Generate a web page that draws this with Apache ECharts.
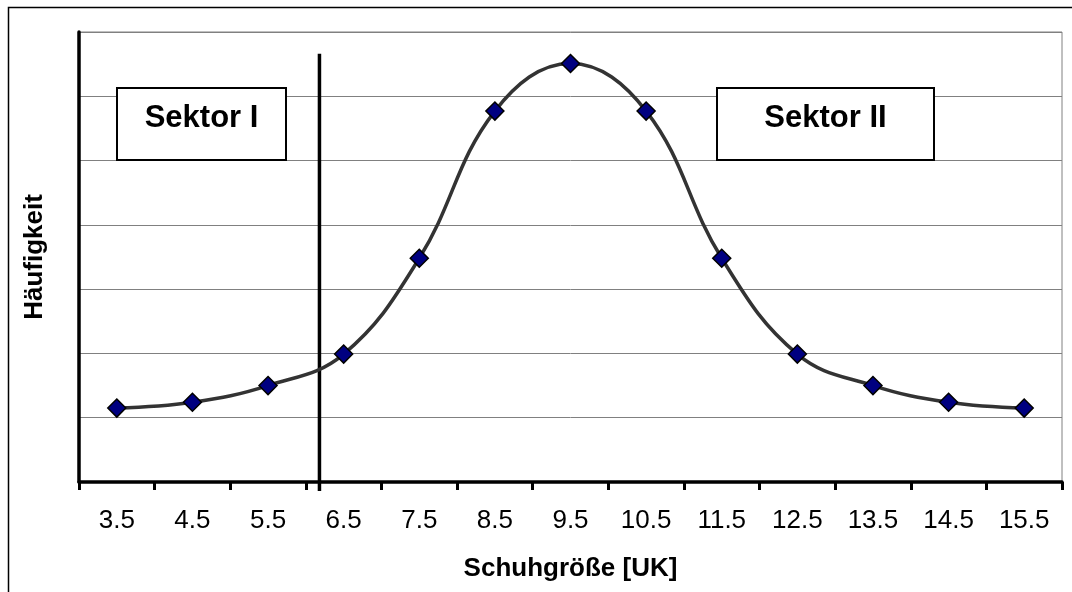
<!DOCTYPE html>
<html>
<head>
<meta charset="utf-8">
<script src="https://cdn.jsdelivr.net/npm/echarts@6/dist/echarts.min.js"></script>
<style>
  html, body { margin: 0; padding: 0; background: #fff; }
  #chart { width: 1072px; height: 592px; }
</style>
</head>
<body>
<div id="chart"></div>
<script>
// Shoe sizes (UK) and their relative frequency
const sizes = ['3.5', '4.5', '5.5', '6.5', '7.5', '8.5', '9.5', '10.5', '11.5', '12.5', '13.5', '14.5', '15.5'];
const frequency = [1.15, 1.24, 1.50, 1.99, 3.48, 5.77, 6.51, 5.77, 3.48, 1.99, 1.50, 1.24, 1.15];
// Boundary between the two sectors, on the shoe-size scale, and its vertical extent
const sectorBoundary = 6.18;
const boundarySpan = [6.66, -0.14];
const sectorLabels = ['Sektor I', 'Sektor II'];

const FONT = '"Liberation Sans", Arial, sans-serif';

const points = sizes.map((s, i) => [parseFloat(s), frequency[i]]);
const boundaryLine = boundarySpan.map(v => [sectorBoundary, v]);

const chart = echarts.init(document.getElementById('chart'), null, { renderer: 'canvas' });

function sectorBox(x, y, w, h, text) {
  return {
    type: 'group',
    children: [
      { type: 'rect', shape: { x: x, y: y, width: w, height: h },
        style: { fill: '#fff', stroke: '#000', lineWidth: 2 }, z: 100 },
      { type: 'text', x: x + w / 2, y: y + h / 2 - 6, z: 101,
        style: { text: text, font: 'bold 31px ' + FONT, fill: '#000',
                 textAlign: 'center', textVerticalAlign: 'middle' } }
    ]
  };
}

chart.setOption({
  animation: false,
  backgroundColor: '#fff',
  grid: {
    left: 79, right: 10, top: 32, bottom: 110,
    show: true, borderColor: '#808080', borderWidth: 1, backgroundColor: 'transparent'
  },
  xAxis: [
    {
      type: 'value', min: 3, max: 16, interval: 1, position: 'bottom',
      axisLine: { show: true, lineStyle: { color: '#000', width: 3.5 } },
      axisTick: { show: true, length: 8, lineStyle: { color: '#000', width: 3 } },
      axisLabel: { show: false },
      splitLine: { show: false }
    },
    {
      type: 'category', data: sizes, position: 'bottom', boundaryGap: true,
      axisLine: { show: false }, axisTick: { show: false },
      axisLabel: { color: '#000', fontSize: 26, fontFamily: FONT, margin: 26, interval: 0 },
      name: 'Schuhgröße [UK]', nameLocation: 'middle', nameGap: 74,
      nameTextStyle: { color: '#000', fontSize: 26, fontWeight: 'bold', fontFamily: FONT }
    }
  ],
  yAxis: {
    type: 'value', min: 0, max: 7, interval: 1,
    axisLine: { show: true, lineStyle: { color: '#000', width: 3.5 } },
    axisTick: { show: false },
    axisLabel: { show: false },
    splitLine: { show: true, lineStyle: { color: '#808080', width: 1 } },
    name: 'Häufigkeit', nameLocation: 'middle', nameRotate: 90, nameGap: 31,
    nameTextStyle: { color: '#000', fontSize: 26, fontWeight: 'bold', fontFamily: FONT }
  },
  series: [
    {
      type: 'line',
      name: 'boundary',
      xAxisIndex: 0,
      data: boundaryLine,
      symbol: 'none',
      clip: false,
      silent: true,
      lineStyle: { color: '#000', width: 3.5 },
      z: 4
    },
    {
      type: 'line',
      xAxisIndex: 0,
      data: points,
      smooth: 0.4,
      clip: false,
      lineStyle: { color: '#333333', width: 3.5 },
      symbol: 'diamond',
      symbolSize: 18,
      itemStyle: { color: '#000080', borderColor: '#000', borderWidth: 1.5 },
      z: 5
    }
  ],
  graphic: [
    { type: 'rect', shape: { x: 8.5, y: 7.5, width: 1200, height: 800 },
      style: { fill: 'none', stroke: '#000', lineWidth: 1.5 }, z: 0, silent: true },
    sectorBox(117, 88, 169, 72, sectorLabels[0]),
    sectorBox(717, 88, 217, 72, sectorLabels[1])
  ]
});
</script>
</body>
</html>
